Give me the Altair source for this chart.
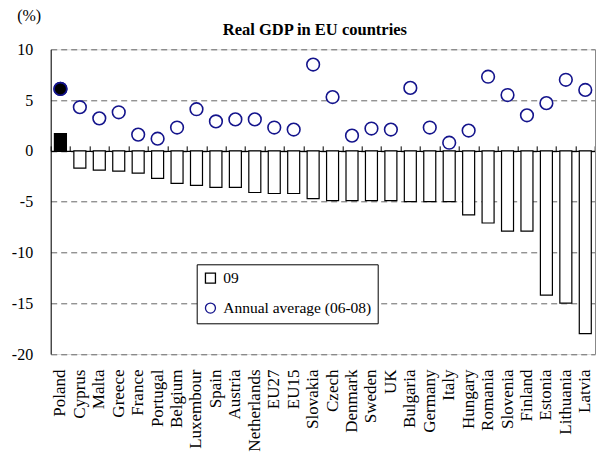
import altair as alt
import pandas as pd

countries = ["Poland", "Cyprus", "Malta", "Greece", "France", "Portugal", "Belgium",
             "Luxembour", "Spain", "Austria", "Netherlands", "EU27", "EU15", "Slovakia",
             "Czech", "Denmark", "Sweden", "UK", "Bulgaria", "Germany", "Italy", "Hungary",
             "Romania", "Slovenia", "Finland", "Estonia", "Lithuania", "Latvia"]
gdp_2009 = [1.7, -1.7, -1.9, -2.0, -2.2, -2.7, -3.2, -3.4, -3.6, -3.6, -4.1, -4.2, -4.2, -4.7,
            -4.9, -4.9, -4.9, -4.9, -5.0, -5.0, -5.0, -6.3, -7.1, -7.9, -7.9, -14.2, -15.0, -18.0]
avg_06_08 = [6.1, 4.3, 3.2, 3.8, 1.6, 1.2, 2.3, 4.1, 2.9, 3.1, 3.1, 2.3, 2.1, 8.5,
             5.3, 1.5, 2.2, 2.1, 6.2, 2.3, 0.8, 2.0, 7.3, 5.5, 3.5, 4.7, 7.0, 6.0]
series_names = ["09", "Annual average (06-08)"]
y_ticks = [-20, -15, -10, -5, 0, 5, 10]
highlight = "Poland"

df = pd.DataFrame({
    "country": countries,
    "gdp09": gdp_2009,
    "avg": avg_06_08,
    "series": series_names[1],
})

W, H = 544.3, 304.7
SERIF = "Liberation Serif"
NAVY = "#14148c"

yscale = alt.Scale(domain=[-20, 10], nice=False, zero=False)
xscale = alt.Scale(paddingInner=0, paddingOuter=0)

bars = alt.Chart(df).mark_bar(size=12, stroke="black", strokeWidth=1.2).encode(
    x=alt.X("country:N", sort=countries, scale=xscale,
            axis=alt.Axis(orient="bottom", title=None, labelAngle=-90, labelAlign="right",
                          labelBaseline="middle", labelFont=SERIF, labelFontSize=17,
                          labelColor="black", labelPadding=15, ticks=False, domain=False,
                          grid=False, labelOverlap=False)),
    y=alt.Y("gdp09:Q", scale=yscale,
            axis=alt.Axis(orient="left", values=y_ticks, grid=True, gridDash=[6, 4],
                          gridColor="#666666", gridWidth=1, domainColor="black", domainWidth=1,
                          ticks=False, labelFont=SERIF, labelFontSize=16, labelColor="black",
                          labelExpr="'' + datum.value",
                          labelPadding=18, title="(%)", titleAngle=0, titleAlign="center",
                          titleBaseline="alphabetic", titleX=-22, titleY=-29, titleFont=SERIF,
                          titleFontSize=16, titleFontWeight="normal", titleColor="black")),
    fill=alt.condition(alt.datum.country == highlight, alt.value("black"), alt.value("white")),
)

legend = alt.Legend(orient="none", legendX=146, legendY=215, title=None, labelFont=SERIF,
                    labelFontSize=15.5, labelColor="black", symbolSize=100, symbolStrokeWidth=1.3,
                    symbolFillColor="white", strokeColor="black", fillColor="white", padding=6,
                    rowPadding=13, labelOffset=5, cornerRadius=0)

points = alt.Chart(df).mark_point(size=160, strokeWidth=1.6, opacity=1).encode(
    x=alt.X("country:N", sort=countries, scale=xscale,
            axis=alt.Axis(orient="top", offset=-H / 3, labels=False, ticks=True,
                          tickBand="extent", tickSize=5, tickColor="black", tickWidth=1,
                          domainColor="black", domainWidth=1.3, title=None, grid=False)),
    y=alt.Y("avg:Q", scale=yscale,
            axis=alt.Axis(orient="right", labels=False, ticks=False, grid=False,
                          domainColor="#888888", domainWidth=1, title=None)),
    shape=alt.Shape("series:N", scale=alt.Scale(domain=series_names, range=["square", "circle"]),
                    legend=legend),
    stroke=alt.Stroke("series:N", scale=alt.Scale(domain=series_names, range=["black", NAVY]),
                      legend=legend),
    fill=alt.Fill("series:N", scale=alt.Scale(domain=series_names, range=["white", "white"]),
                  legend=legend),
)

poland_point = alt.Chart(df).transform_filter(alt.datum.country == highlight).mark_point(
    size=160, strokeWidth=1.6, opacity=1, fill="black", stroke=NAVY, shape="circle"
).encode(
    x=alt.X("country:N", sort=countries, scale=xscale, axis=None),
    y=alt.Y("avg:Q", scale=yscale, axis=None),
)

chart = alt.layer(bars, points, poland_point).resolve_axis(x="independent", y="independent").properties(
    width=W, height=H,
    autosize=alt.AutoSizeParams(type="none"),
    padding={"left": 50.7, "top": 49.3, "right": 1, "bottom": 98},
    title=alt.Title("Real GDP in EU countries", font=SERIF, fontSize=16.5, fontWeight="bold",
                    color="black", anchor="middle", frame="group", dx=-8, dy=43, offset=12),
).configure_view(stroke=None).configure_legend(
    symbolBaseFillColor="white"
).configure(background="white")

chart.save("out.html", embed_options={"renderer": "svg", "actions": False})
